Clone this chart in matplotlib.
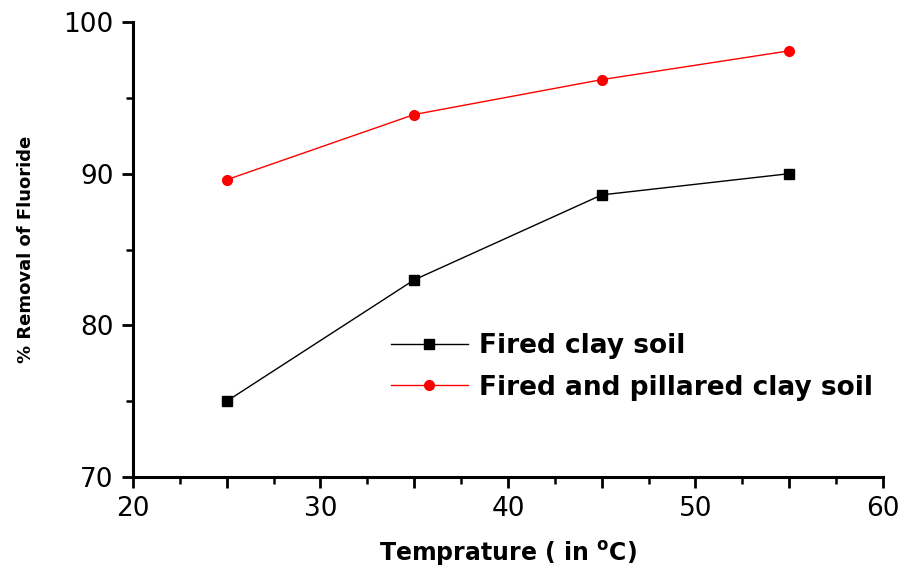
import numpy as np
import matplotlib.pyplot as plt
from matplotlib.ticker import MultipleLocator, FuncFormatter

# data
temperature = [25, 35, 45, 55]
fired_clay = [75.0, 83.0, 88.6, 90.0]
pillared_clay = [89.6, 93.9, 96.2, 98.1]

fig = plt.figure(figsize=(9.07, 5.73), dpi=100)
ax = fig.add_axes([0.1466, 0.1675, 0.8269, 0.7941])

ax.plot(temperature, fired_clay, color='black', lw=1.0, marker='s', ms=7,
        label='Fired clay soil')
ax.plot(temperature, pillared_clay, color='red', lw=1.0, marker='o', ms=7,
        label='Fired and pillared clay soil')

ax.set_xlim(20, 60)
ax.set_ylim(70, 100)
# long ticks every 5 on x, but labels only at the tens
ax.xaxis.set_major_locator(MultipleLocator(5))
ax.xaxis.set_minor_locator(MultipleLocator(2.5))
ax.xaxis.set_major_formatter(FuncFormatter(lambda v, p: '%d' % v if v % 10 == 0 else ''))
ax.yaxis.set_major_locator(MultipleLocator(10))
ax.yaxis.set_minor_locator(MultipleLocator(5))

for side in ['top', 'right']:
    ax.spines[side].set_visible(False)
for side in ['left', 'bottom']:
    ax.spines[side].set_linewidth(2.2)

ax.tick_params(which='major', direction='out', length=8, width=2, labelsize=19, pad=6)
ax.tick_params(which='minor', direction='out', length=5, width=1.8)

ax.set_xlabel('Temprature ( in $^{\\mathbf{o}}$C)', fontsize=17, fontweight='heavy', labelpad=12)
ax.set_ylabel('% Removal of Fluoride', fontsize=13, fontweight='bold', labelpad=20)

leg = ax.legend(loc='upper left', bbox_to_anchor=(0.33, 0.34), frameon=False,
                prop={'size': 19, 'weight': 'bold'}, handlelength=2.9,
                handletextpad=0.45, labelspacing=0.6, borderaxespad=0)

fig.savefig('out.png', dpi=100)
